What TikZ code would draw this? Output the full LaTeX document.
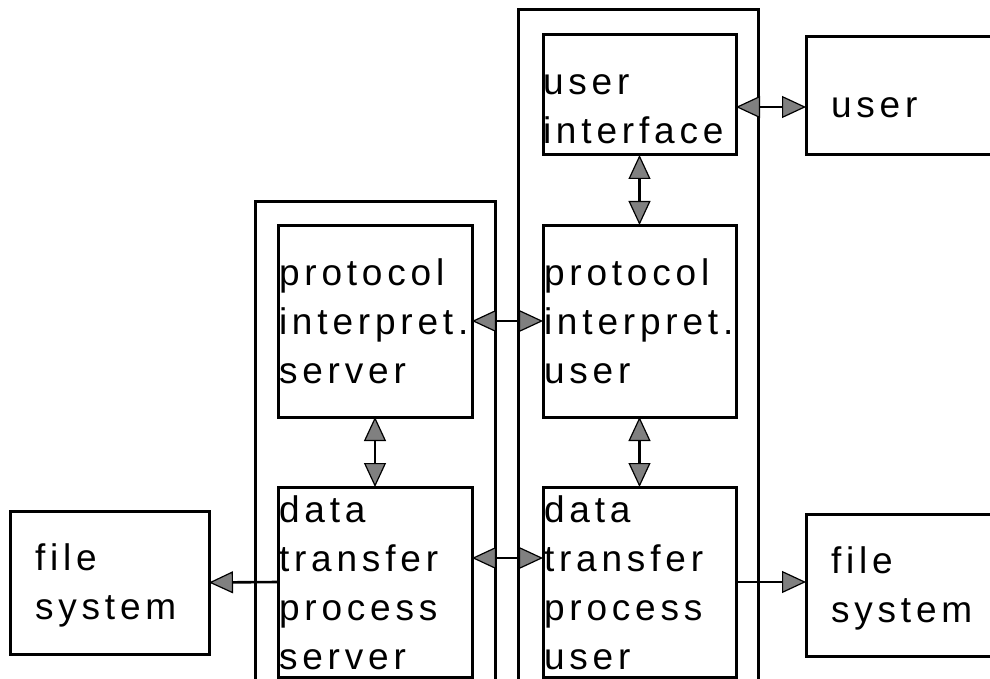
\documentclass[tikz,border=0pt]{standalone}
\usepackage{fontspec}
\setmainfont{Liberation Sans}[LetterSpace=13]
\usetikzlibrary{arrows.meta}
\tikzset{
  box/.style={draw=black, line width=3pt, inner sep=0pt, outer sep=0pt, rectangle},
  lbl/.style={anchor=north west, inner sep=0pt, outer sep=0pt, align=left,
    font=\fontsize{37}{49}\selectfont, text=black},
  biarrow/.style={draw=black, line width=2.6pt, {Triangle[length=24pt,width=22pt,fill=black!50,line width=1.2pt]}-{Triangle[length=24pt,width=22pt,fill=black!50,line width=1.2pt]}},
  onearrow/.style={draw=black, line width=2.6pt, -{Triangle[length=24pt,width=22pt,fill=black!50,line width=1.2pt]}}
}
\begin{document}
\begin{tikzpicture}[x=1pt,y=-1pt]
\useasboundingbox (0,0) rectangle (990,679);
\clip (0,0) rectangle (990,679);
% outer containers
\node[box, minimum width=240pt, minimum height=480pt] (outL) at (375,442) {};
\node[box, minimum width=240pt, minimum height=672pt] (outR) at (638,346) {};
% inner boxes
\node[box, minimum width=193pt, minimum height=120pt] (UI) at (639.5,95) {};
\node[box, minimum width=200pt, minimum height=118pt] (user) at (906,96) {};
\node[box, minimum width=194pt, minimum height=192pt] (PIS) at (375,321) {};
\node[box, minimum width=193pt, minimum height=192pt] (PIU) at (639.5,321) {};
\node[box, minimum width=194pt, minimum height=190pt] (DTPS) at (375,582) {};
\node[box, minimum width=193pt, minimum height=190pt] (DTPU) at (639.5,582) {};
\node[box, minimum width=199pt, minimum height=143pt] (FSL) at (109.5,582.5) {};
\node[box, minimum width=200pt, minimum height=142pt] (FSR) at (906,585) {};
% labels
\node[lbl] (tUI) at (543,60.7) {\strut user\\\strut interface};
\node[lbl] (tUser) at (831,83.7) {\strut user};
\node[lbl] (tPIS) at (279,250.7) {\strut protocol\\\strut interpret.\\\strut server};
\node[lbl] (tPIU) at (544,250.7) {\strut protocol\\\strut interpret.\\\strut user};
\node[lbl] (tDTPS) at (279,487.7) {\strut data\\\strut transfer\\\strut process\\\strut server};
\node[lbl] (tDTPU) at (544,487.7) {\strut data\\\strut transfer\\\strut process\\\strut user};
\node[lbl] (tFSL) at (35,535.7) {\strut file\\\strut system};
\node[lbl] (tFSR) at (831,538.7) {\strut file\\\strut system};
% connectors
\draw[biarrow] ([yshift=-12pt]UI.east) -- ([yshift=-12pt]UI.east -| user.west);
\draw[biarrow] (UI.south) -- (PIU.north);
\draw[biarrow] (PIS.east) -- (PIU.west);
\draw[biarrow] (PIS.south) -- (DTPS.north);
\draw[biarrow] (PIU.south) -- (DTPU.north);
\draw[biarrow] ([yshift=24pt]DTPS.east) -- ([yshift=24pt]DTPU.west);
\draw[onearrow] (DTPS.west) -- (FSL.east);
\draw[onearrow] (DTPU.east) -- (DTPU.east -| FSR.west);
\end{tikzpicture}
\end{document}
